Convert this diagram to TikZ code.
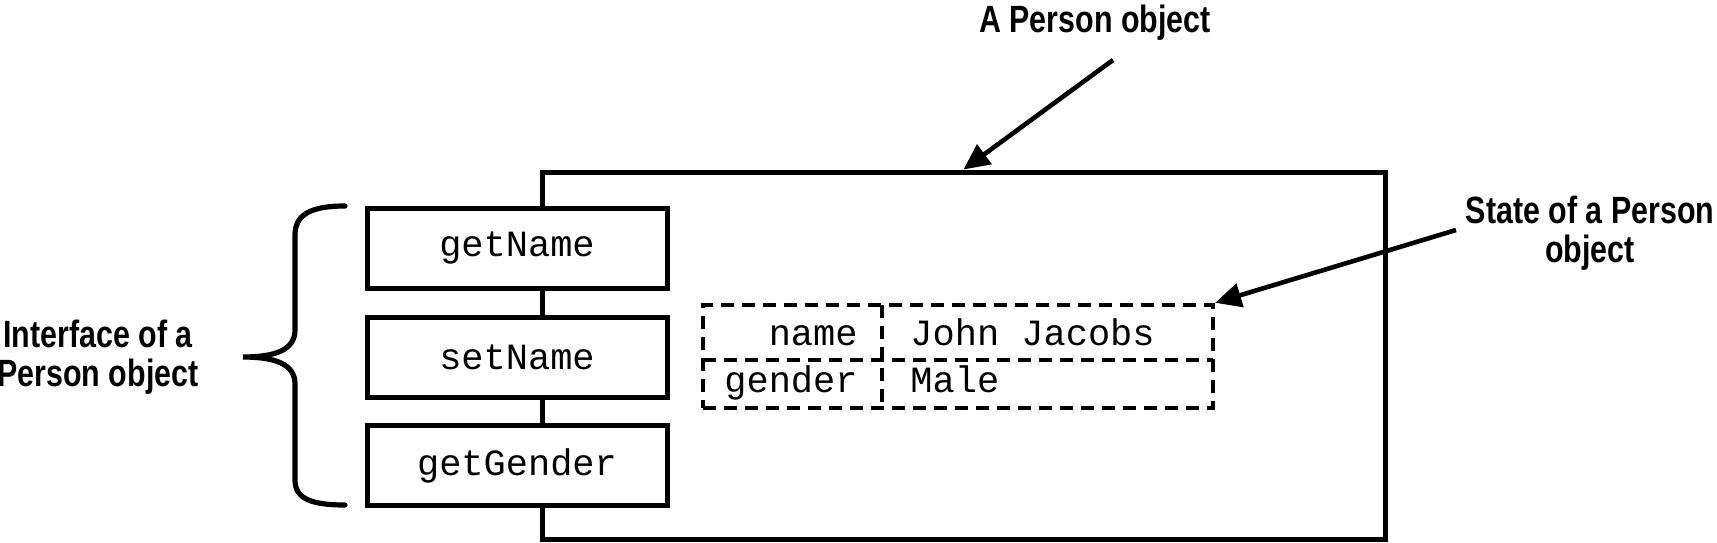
\documentclass[tikz,border=0pt]{standalone}
\usepackage{fontspec}
\setmonofont{Liberation Mono}
\newfontfamily\calloutfont[FakeStretch=0.8]{Liberation Sans}
\usetikzlibrary{arrows.meta,positioning}

\begin{document}
\begin{tikzpicture}[
    x=0.5pt, y=-0.5pt,
    objbox/.style={draw, line width=2.5pt, minimum width=421.5pt, minimum height=183.5pt, inner sep=0},
    method/.style={draw, line width=2.5pt, fill=white, minimum width=150pt, minimum height=40pt, font=\ttfamily\fontsize{18.5}{20}\selectfont},
    field/.style={inner sep=0, font=\ttfamily\fontsize{18.5}{20}\selectfont},
    cellline/.style={line width=2.2pt, dash pattern=on 6.5pt off 4pt},
    callout/.style={align=center, inner sep=0, font=\calloutfont\bfseries\fontsize{19}{19.5}\selectfont},
    pointer/.style={-{Triangle[length=13pt,width=12pt]}, line width=2.3pt}
  ]
    \useasboundingbox (0,0) rectangle (1717,542);

    % Object boundary
    \node[objbox] (obj) at (963.5,355.5) {};

    % Interface methods
    \node[method] (getname) at (517,248) {getName};
    \node[method] (setname) at (517,357) {setName};
    \node[method] (getgender) at (517,465.5) {getGender};

    % State table
    \node[draw, cellline, minimum width=255pt, minimum height=51.5pt, inner sep=0] (state) at (958,356.5) {};
    \draw[cellline] (703,360) -- (1213,360);
    \draw[cellline] (882,305) -- (882,408);
    \node[field, anchor=base east] (namekey) at (858,345) {name};
    \node[field, anchor=base west] (nameval) at (910,345) {John Jacobs};
    \node[field, anchor=base east] (genderkey) at (858,392) {gender};
    \node[field, anchor=base west] (genderval) at (910,392) {Male};

    % Brace
    \draw[line width=2.6pt, line cap=round] (345,206) .. controls (310,206) and (295,215) .. (295,235) -- (295,330)
      .. controls (295,350) and (275,357) .. (243,357) .. controls (275,357) and (295,364) .. (295,384) -- (295,480)
      .. controls (295,498) and (310,505) .. (345,505);

    % Labels
    \node[callout, anchor=base] (objlabel) at (1095,32) {A Person object};
    \node[callout] (statelabel) at (1590,233) {State of a Person\\object};
    \node[callout] (ifacelabel) at (98,357) {Interface of a\\Person object};

    % Pointers
    \coordinate (objtail) at (1113,60);
    \coordinate (statetail) at (1456,230);
    \draw[pointer] (objtail) -- (obj.north);
    \draw[pointer] (statetail) -- (state.north east);
  \end{tikzpicture}
\end{document}
